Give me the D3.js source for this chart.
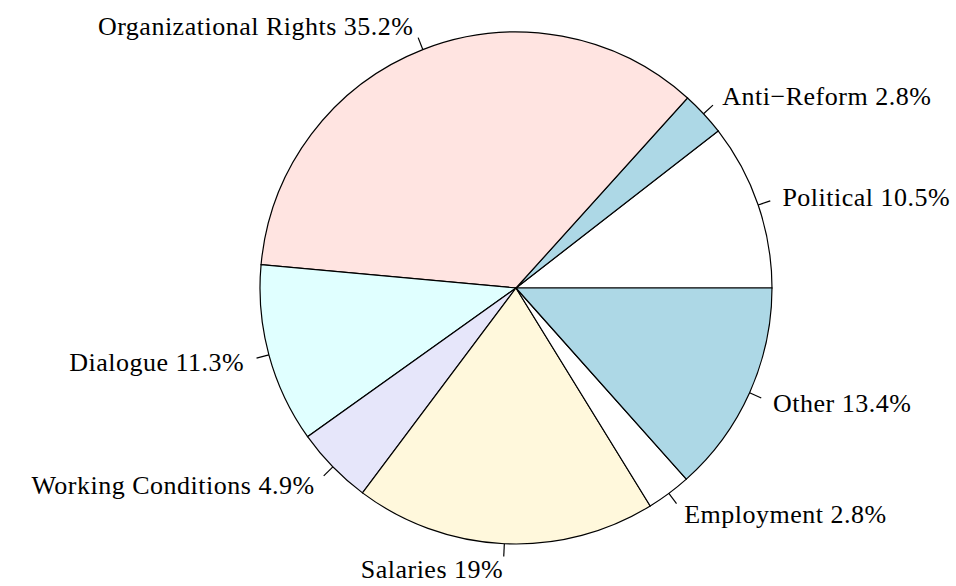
<!DOCTYPE html>
<html><head><meta charset="utf-8">
<script src="https://cdn.jsdelivr.net/npm/d3@7"></script>
<style>body{margin:0;background:#fff}</style>
</head><body>
<svg id="chart" width="956" height="586"></svg>
<script>
const categories = ["Political","Anti\u2212Reform","Organizational Rights","Dialogue","Working Conditions","Salaries","Employment","Other"];
const values = [10.5, 2.8, 35.2, 11.3, 4.9, 19, 2.8, 13.4];
const labels = ["Political 10.5%","Anti\u2212Reform 2.8%","Organizational Rights 35.2%","Dialogue 11.3%","Working Conditions 4.9%","Salaries 19%","Employment 2.8%","Other 13.4%"];
const colors = ["#FFFFFF","#ADD8E6","#FFE4E1","#E0FFFF","#E6E6FA","#FFF8DC","#FFFFFF","#ADD8E6"];

const svg = d3.select("#chart");
const cx = 516, cy = 288, r = 256;
const g = svg.append("g").attr("transform", `translate(${cx},${cy})`);
const pie = d3.pie().sort(null).value(d => d).startAngle(Math.PI/2).endAngle(Math.PI/2 - 2*Math.PI);
const arcs = pie(values);
const arc = d3.arc().innerRadius(0).outerRadius(r);
g.selectAll("path.slice").data(arcs).join("path")
  .attr("class","slice")
  .attr("d", arc)
  .attr("fill", (d,i) => colors[i])
  .attr("stroke", "#000").attr("stroke-width", 1.2);

arcs.forEach((d,i) => {
  const a = (d.startAngle + d.endAngle)/2;
  const ux = Math.sin(a), uy = -Math.cos(a);
  g.append("line")
    .attr("x1", ux*r).attr("y1", uy*r)
    .attr("x2", ux*r*1.05).attr("y2", uy*r*1.05)
    .attr("stroke", "#000").attr("stroke-width", 1.2);
  g.append("text")
    .attr("x", ux*r*1.1).attr("y", uy*r*1.1)
    .attr("dy", "0.35em")
    .attr("text-anchor", ux < 0 ? "end" : "start")
    .attr("font-family", "'Liberation Serif', serif")
    .attr("font-size", 26)
    .attr("letter-spacing", 0.5)
    .attr("fill", "#000")
    .text(labels[i]);
});
</script>
</body></html>
